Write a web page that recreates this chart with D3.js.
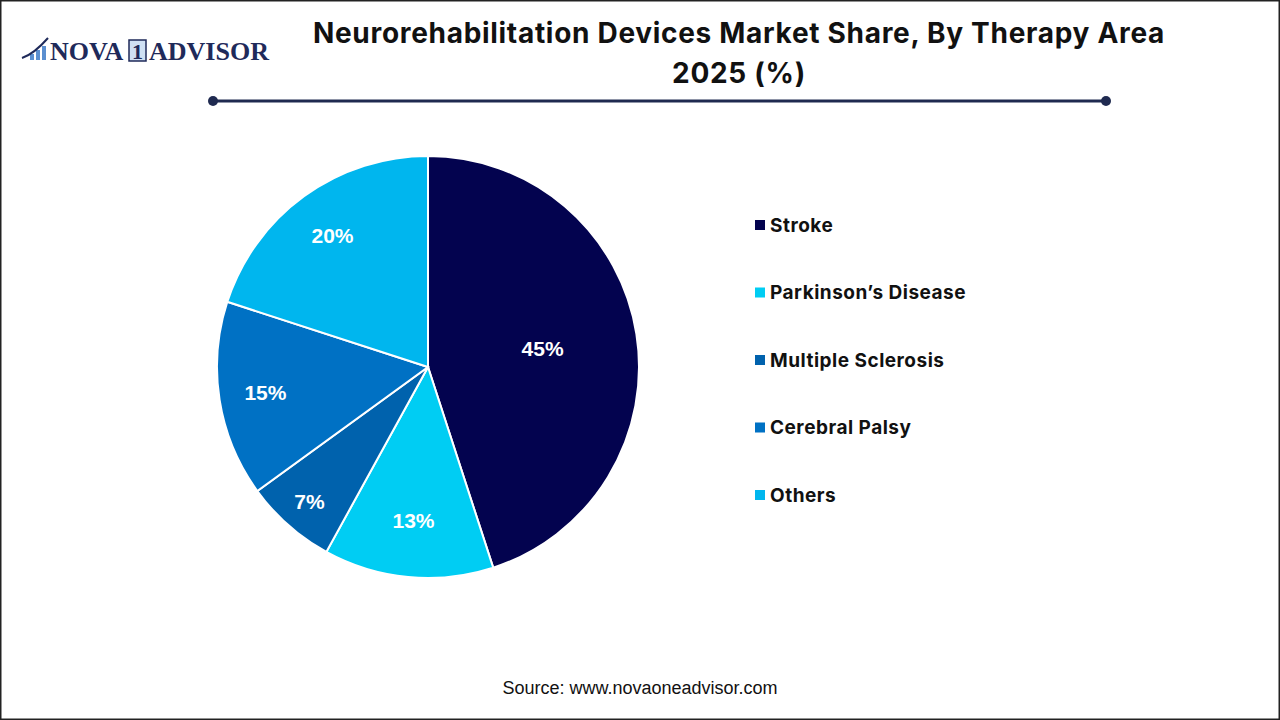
<!DOCTYPE html>
<html>
<head>
<meta charset="utf-8">
<script src="https://cdn.jsdelivr.net/npm/d3@7"></script>
<style>
  body { margin: 0; background: #fff; }
  svg { display: block; }
</style>
</head>
<body>
<div id="chart"></div>
<script>
// chart data
var categories = ["Stroke", "Parkinson\u2019s Disease", "Multiple Sclerosis", "Cerebral Palsy", "Others"];
var shares = [45, 13, 7, 15, 20];
var sliceLabels = ["45%", "13%", "7%", "15%", "20%"];

var colors = ["#03034f", "#00cdf3", "#0062ad", "#0071c4", "#00b6ee"];
// where each label sits along its slice radius (fraction of radius)
var labelRadius = [0.55, 0.73, 0.85, 0.78, 0.77];

var svgWidth = 1280;
var svgHeight = 720;

var svg = d3.select("#chart")
    .append("svg")
    .attr("width", svgWidth)
    .attr("height", svgHeight);

// frame
svg.append("rect")
    .attr("x", 0.75).attr("y", 0.75)
    .attr("width", svgWidth - 1.5).attr("height", svgHeight - 1.5)
    .attr("fill", "#fff")
    .attr("stroke", "#222")
    .attr("stroke-width", 1.5);

// logo
var logo = svg.append("g").attr("transform", "translate(22, 60)");
[[4, 6], [10, 10], [16, 14]].forEach(function (b) {
    logo.append("rect")
        .attr("x", b[0] + 4).attr("y", -b[1])
        .attr("width", 4).attr("height", b[1])
        .attr("fill", "#5b8fd0");
});
logo.append("path")
    .attr("d", "M0,-2 Q12,-6 26,-22")
    .attr("fill", "none")
    .attr("stroke", "#1f2a5a")
    .attr("stroke-width", 2);
logo.append("text")
    .attr("x", 28).attr("y", 0)
    .attr("font-family", "Liberation Serif, serif")
    .attr("font-weight", "bold")
    .attr("font-size", 26)
    .attr("fill", "#1f2a5a")
    .text("NOVA");
logo.append("rect")
    .attr("x", 107).attr("y", -20)
    .attr("width", 17).attr("height", 21)
    .attr("fill", "#cfe0f3")
    .attr("stroke", "#1f2a5a")
    .attr("stroke-width", 1.5);
logo.append("text")
    .attr("x", 115.5).attr("y", -1)
    .attr("text-anchor", "middle")
    .attr("font-family", "Liberation Serif, serif")
    .attr("font-weight", "bold")
    .attr("font-size", 22)
    .attr("fill", "#1f2a5a")
    .text("1");
logo.append("text")
    .attr("x", 127).attr("y", 0)
    .attr("font-family", "Liberation Serif, serif")
    .attr("font-weight", "bold")
    .attr("font-size", 26)
    .attr("fill", "#1f2a5a")
    .text("ADVISOR");

// title
var title = svg.append("text")
    .attr("text-anchor", "middle")
    .attr("font-family", "Inter, Open Sans, sans-serif")
    .attr("font-weight", "bold")
    .attr("font-size", 28)
    .attr("letter-spacing", 0.7)
    .attr("fill", "#111");
title.append("tspan").attr("x", 739).attr("y", 43)
    .text("Neurorehabilitation Devices Market Share, By Therapy Area");
title.append("tspan").attr("x", 739).attr("y", 83)
    .text("2025 (%)");

// divider line
svg.append("line")
    .attr("x1", 213).attr("x2", 1106)
    .attr("y1", 101).attr("y2", 101)
    .attr("stroke", "#1f2a50")
    .attr("stroke-width", 3);
[213, 1106].forEach(function (x) {
    svg.append("circle")
        .attr("cx", x).attr("cy", 101).attr("r", 5)
        .attr("fill", "#1f2a50");
});

// pie
var cx = 428, cy = 367, radius = 211;
var pieGroup = svg.append("g").attr("transform", `translate(${cx}, ${cy})`);

var pie = d3.pie().sort(null).value(d => d);
var arcs = pie(shares);
var arc = d3.arc().innerRadius(0).outerRadius(radius);

pieGroup.selectAll("path")
    .data(arcs)
    .enter()
    .append("path")
    .attr("d", arc)
    .attr("fill", (d, i) => colors[i])
    .attr("stroke", "#fff")
    .attr("stroke-width", 2);

pieGroup.selectAll("text.slice")
    .data(arcs)
    .enter()
    .append("text")
    .attr("class", "slice")
    .attr("transform", function (d, i) {
        var a = (d.startAngle + d.endAngle) / 2;
        var r = radius * labelRadius[i];
        return `translate(${r * Math.sin(a)}, ${-r * Math.cos(a)})`;
    })
    .attr("dy", "0.35em")
    .attr("text-anchor", "middle")
    .attr("font-family", "Liberation Sans, Arial, sans-serif")
    .attr("font-weight", "bold")
    .attr("font-size", 21)
    .attr("fill", "#fff")
    .text((d, i) => sliceLabels[i]);

// legend
var legend = svg.append("g").attr("transform", "translate(755, 225)");
var legendRows = legend.selectAll("g")
    .data(categories)
    .enter()
    .append("g")
    .attr("transform", (d, i) => `translate(0, ${i * 67.5})`);
legendRows.append("rect")
    .attr("x", 0).attr("y", -5)
    .attr("width", 10).attr("height", 10)
    .attr("fill", (d, i) => colors[i]);
legendRows.append("text")
    .attr("x", 15).attr("y", 0)
    .attr("dy", "0.35em")
    .attr("font-family", "Inter, Open Sans, sans-serif")
    .attr("font-weight", "bold")
    .attr("font-size", 19)
    .attr("letter-spacing", 0.5)
    .attr("fill", "#111")
    .text(d => d);

// source
svg.append("text")
    .attr("x", 640).attr("y", 694)
    .attr("text-anchor", "middle")
    .attr("font-family", "Liberation Sans, Arial, sans-serif")
    .attr("font-size", 18)
    .attr("fill", "#111")
    .text("Source: www.novaoneadvisor.com");
</script>
</body>
</html>
